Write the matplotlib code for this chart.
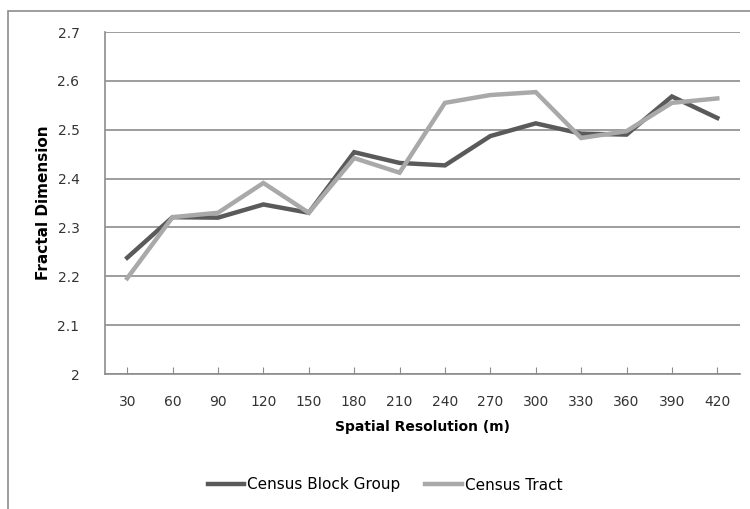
import matplotlib
matplotlib.use('Agg')
import matplotlib.pyplot as plt
from matplotlib.patches import Rectangle

# values
resolution = ['30', '60', '90', '120', '150', '180', '210', '240', '270', '300', '330', '360', '390', '420']
block_group = [2.238, 2.321, 2.320, 2.347, 2.330, 2.454, 2.432, 2.427, 2.487, 2.513, 2.492, 2.490, 2.568, 2.524]
tract = [2.196, 2.321, 2.330, 2.391, 2.330, 2.442, 2.412, 2.555, 2.571, 2.577, 2.483, 2.497, 2.555, 2.564]
y_ticks = [2.0, 2.1, 2.2, 2.3, 2.4, 2.5, 2.6, 2.7]
y_labels = ['2', '2.1', '2.2', '2.3', '2.4', '2.5', '2.6', '2.7']

plt.rcParams['font.family'] = ['DejaVu Sans']

fig = plt.figure(figsize=(7.5, 5.09), dpi=100)
ax = fig.add_axes([104.5 / 750, 1 - 374 / 509, (740 - 104.5) / 750, (374 - 32) / 509])

# outer chart border (cut off at right and bottom in the reference)
fig.patches.append(Rectangle((8 / 750, -0.1), 1.2, 1.1 - 11 / 509, transform=fig.transFigure,
                             fill=False, edgecolor='#8c8c8c', linewidth=1.2))

x = list(range(len(resolution)))
ax.plot(x, block_group, color='#5a5a5a', linewidth=3.2, label='Census Block Group', solid_joinstyle='miter')
ax.plot(x, tract, color='#a9a9a9', linewidth=3.2, label='Census Tract', solid_joinstyle='miter')

ax.set_xlim(-0.5, len(resolution) - 0.5)
ax.set_ylim(2.0, 2.7)
ax.set_xticks(x)
ax.set_xticklabels(resolution, fontsize=10, color='#333333')
ax.set_yticks(y_ticks)
ax.set_yticklabels(y_labels, fontsize=10, color='#333333')
ax.tick_params(axis='y', length=0, pad=18)
ax.tick_params(axis='x', direction='in', length=5, color='#8c8c8c', pad=15)

ax.grid(axis='y', color='#8c8c8c', linewidth=1.2)
ax.set_axisbelow(True)
for s in ['top', 'right']:
    ax.spines[s].set_visible(False)
for s in ['left', 'bottom']:
    ax.spines[s].set_color('#8c8c8c')
    ax.spines[s].set_linewidth(1.2)

ax.set_xlabel('Spatial Resolution (m)', fontsize=10, fontweight='bold', labelpad=8)
ax.set_ylabel('Fractal Dimension', fontsize=11, fontweight='bold', labelpad=5)

ax.legend(loc='center', bbox_to_anchor=(385 / 750, 1 - 485 / 509), bbox_transform=fig.transFigure,
          ncol=2, frameon=False, fontsize=11, handlelength=2.4, handletextpad=0.2, columnspacing=1.6)

fig.savefig('out.png', dpi=100)
